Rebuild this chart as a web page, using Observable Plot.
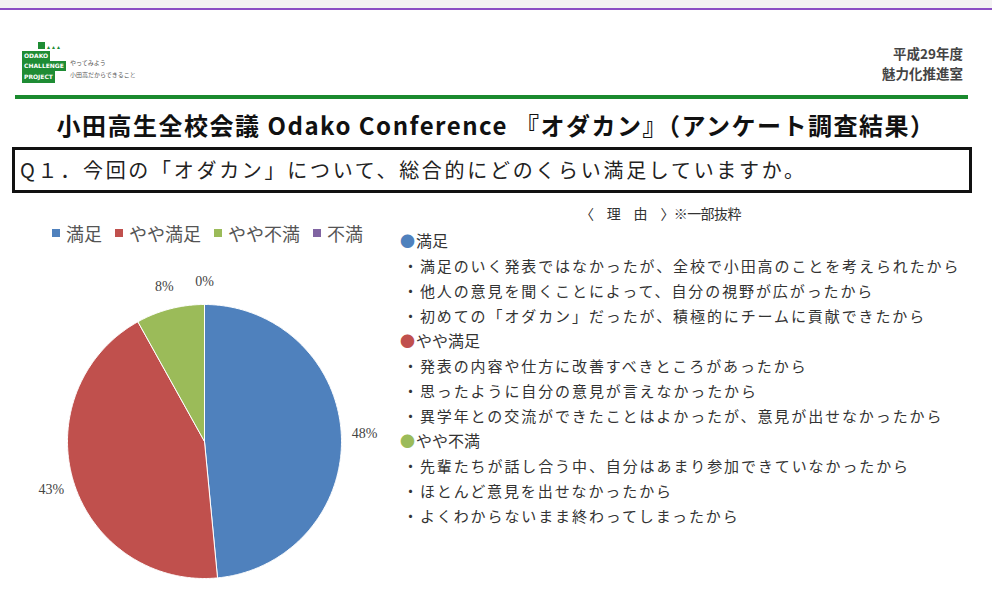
<!DOCTYPE html>
<html><head><meta charset="utf-8">
<script src="https://cdn.jsdelivr.net/npm/d3@7"></script>
<script src="https://cdn.jsdelivr.net/npm/@observablehq/plot@0.6"></script>
<style>
html,body{margin:0;padding:0}
body{width:992px;height:608px;position:relative;background:#fff;overflow:hidden;font-family:"Noto Sans CJK JP","Noto Sans",sans-serif;color:#333}
.abs{position:absolute}
#topband{left:0;top:0;width:992px;height:8px;background:#f3f3f3}
#purple{left:0;top:8px;width:992px;height:2px;background:#8b4fc4}
#green{left:15px;top:95px;width:953px;height:4px;background:#1a8a2e}
.logo{background:#1e8c34;color:#fff;font:bold 6px "DejaVu Sans",sans-serif;line-height:10px;padding:0 2px}
.tiny{font-size:6px;color:#555;line-height:7px}
.year{right:29px;text-align:right;font-size:13.5px;line-height:15px;color:#444;font-weight:bold}
#title{left:0;width:992px;top:108px;text-align:center;font-size:24px;font-weight:bold;color:#111;line-height:34px;letter-spacing:1.5px}
#qbox{left:12px;top:147px;width:954px;height:40px;border:3px solid #111}
#qtext{left:20px;top:156px;font-size:20px;line-height:28px;letter-spacing:2.7px;color:#222}
#legend{left:52px;top:220px}
.lg-swatches{font-family:"Noto Sans CJK JP",sans-serif !important;font-size:18px !important;color:#555 !important;min-height:26px !important;margin:0 !important}
.lg-swatch{margin-right:13px !important}
.lg-swatch svg{margin-right:6px !important}
#pie{left:4px;top:241px}
#rhead{left:580px;top:202px;font-size:14px;line-height:22px;color:#333;letter-spacing:-0.6px}
#reasons{left:400px;top:228px;line-height:25px}
.cat{font-size:16px;color:#333}
.dot{font-size:15px;margin-right:1px}
.item{font-size:15px;letter-spacing:1.9px;color:#333;padding-left:3px}
</style></head><body>
<div class="abs" id="topband"></div>
<div class="abs" id="purple"></div>
<div class="abs" style="left:38px;top:42px;width:7px;height:7px;background:#1e8c34"></div>
<div class="abs" style="left:46px;top:44px;font:bold 5px sans-serif;color:#1e8c34">▲▲▲</div>
<div class="abs logo" style="left:22px;top:51px">ODAKO</div>
<div class="abs logo" style="left:22px;top:61px">CHALLENGE</div>
<div class="abs logo" style="left:22px;top:71px;line-height:12px">PROJECT</div>
<div class="abs tiny" style="left:70px;top:59px">やってみよう</div>
<div class="abs tiny" style="left:70px;top:71px">小田高だからできること</div>
<div class="abs year" style="top:46px">平成29年度</div>
<div class="abs year" style="top:66px">魅力化推進室</div>
<div class="abs" id="green"></div>
<div class="abs" id="title">小田高生全校会議 Odako Conference 『オダカン』（アンケート調査結果）</div>
<div class="abs" id="qbox"></div>
<div class="abs" id="qtext">Q１．今回の「オダカン」について、総合的にどのくらい満足していますか。</div>
<div class="abs" id="legend"></div>
<div class="abs" id="pie"></div>
<div class="abs" id="rhead">〈　理　由　〉※一部抜粋</div>
<div class="abs" id="reasons"></div>
<script>
// ---- data ----
const categories = ["満足", "やや満足", "やや不満", "不満"];
const percents = [48, 43, 8, 0];
const colors = ["#4f81bd", "#c0504d", "#9bbb59", "#8064a2"];
const reasonGroups = ["満足", "やや満足", "やや不満"];
const reasonsSatisfied = [
  "・満足のいく発表ではなかったが、全校で小田高のことを考えられたから",
  "・他人の意見を聞くことによって、自分の視野が広がったから",
  "・初めての「オダカン」だったが、積極的にチームに貢献できたから"
];
const reasonsSomewhatSatisfied = [
  "・発表の内容や仕方に改善すべきところがあったから",
  "・思ったように自分の意見が言えなかったから",
  "・異学年との交流ができたことはよかったが、意見が出せなかったから"
];
const reasonsSomewhatDissatisfied = [
  "・先輩たちが話し合う中、自分はあまり参加できていなかったから",
  "・ほとんど意見を出せなかったから",
  "・よくわからないまま終わってしまったから"
];

// ---- pie geometry ----
const data = categories.map((c, i) => ({category: c, value: percents[i]}));
const arcs = d3.pie().sort(null).value(d => d.value)(data);
const rows = [];
for (const a of arcs) {
  rows.push({category: a.data.category, x: 0, y: 0});
  const n = Math.max(1, Math.ceil((a.endAngle - a.startAngle) / 0.01));
  for (let k = 0; k <= n; k++) {
    const t = a.startAngle + (a.endAngle - a.startAngle) * k / n;
    rows.push({category: a.data.category, x: Math.sin(t), y: Math.cos(t)});
  }
  rows.push({category: a.data.category, x: 0, y: 0});
}
const labelR = 1.17;
const labels = arcs.map(a => {
  const m = (a.startAngle + a.endAngle) / 2;
  return {category: a.data.category, text: a.data.value + "%", x: labelR * Math.sin(m), y: labelR * Math.cos(m)};
});

const R = 137, half = 200;
const chart = Plot.plot({
  width: 400, height: 400, margin: 0,
  x: {domain: [-half / R, half / R], axis: null},
  y: {domain: [-half / R, half / R], axis: null},
  color: {domain: categories, range: colors},
  marks: [
    Plot.line(rows, {x: "x", y: "y", z: "category", fill: "category", stroke: "white", strokeWidth: 1, curve: "linear"}),
    Plot.text(labels, {x: "x", y: "y", text: "text", fontSize: 14, fill: "#444", fontFamily: "Liberation Serif, serif"})
  ]
});
document.getElementById("pie").appendChild(chart);

const legend = chart.legend("color", {swatchSize: 8, className: "lg"});
document.getElementById("legend").appendChild(legend);

// ---- reasons ----
const groups = [reasonsSatisfied, reasonsSomewhatSatisfied, reasonsSomewhatDissatisfied];
const box = document.getElementById("reasons");
reasonGroups.forEach((g, i) => {
  const h = document.createElement("div");
  h.className = "cat";
  const dot = document.createElement("span");
  dot.className = "dot";
  dot.style.color = colors[categories.indexOf(g)];
  dot.textContent = "●";
  h.appendChild(dot);
  h.appendChild(document.createTextNode(g));
  box.appendChild(h);
  for (const line of groups[i]) {
    const d = document.createElement("div");
    d.className = "item";
    d.textContent = line;
    box.appendChild(d);
  }
});
</script>
</body></html>
